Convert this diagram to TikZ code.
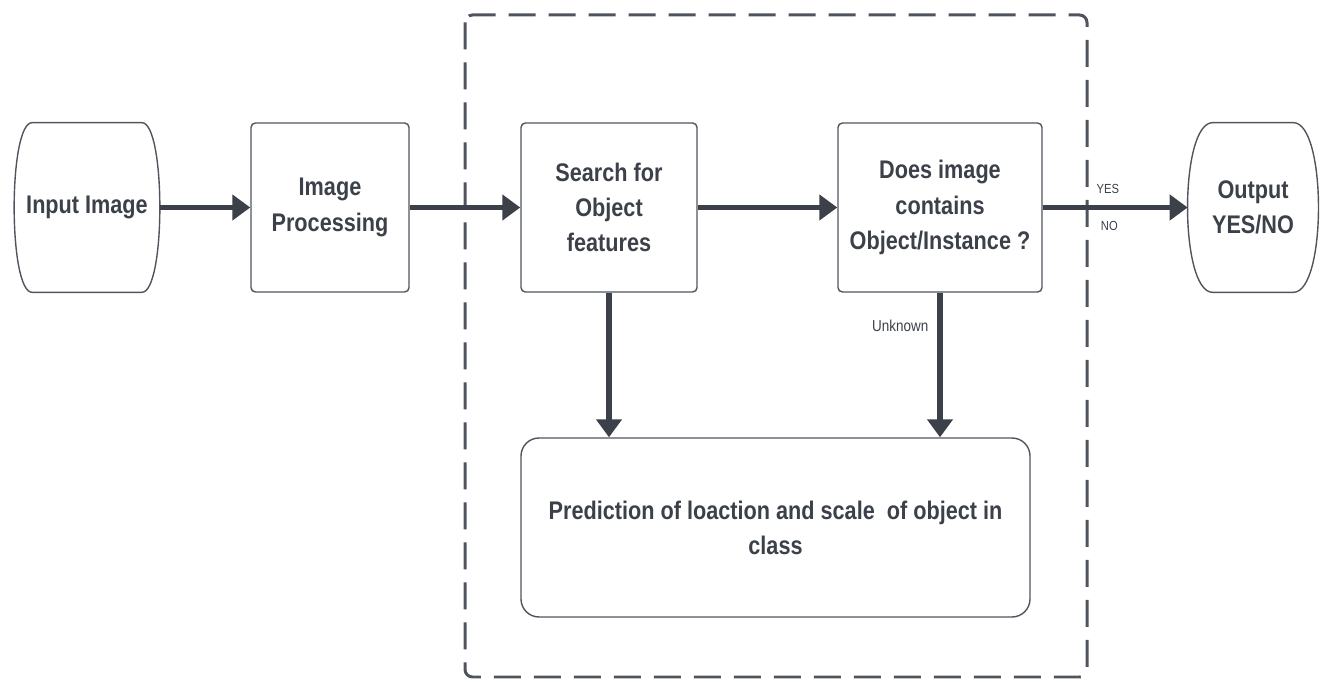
\documentclass[tikz,border=0pt]{standalone}
\usepackage{fontspec}
\setmainfont{Liberation Sans}[FakeStretch=0.85]
\usetikzlibrary{arrows.meta,positioning}
\definecolor{ink}{HTML}{3B4049}
\definecolor{frame}{HTML}{50555D}

\tikzset{
  stepbox/.style={draw=frame, line width=0.8pt, rounded corners=2.5pt,
    minimum height=3.38cm, align=center, text=ink,
    font=\fontsize{14.5}{20}\selectfont\bfseries},
  termbox/.style={minimum height=3.38cm, align=center, text=ink, inner sep=0pt,
    font=\fontsize{14.5}{20}\selectfont\bfseries},
  flow/.style={draw=ink, line width=3.4pt,
    -{Triangle[length=0.36cm,width=0.5cm]}},
  tag/.style={text=ink, inner sep=1pt},
}

\begin{document}
\begin{tikzpicture}
\useasboundingbox (0,0) rectangle (26.48,13.62);

% dashed frame round the detection part
\draw[frame, line width=1.7pt, dash pattern=on 0.54cm off 0.26cm, rounded corners=0.15cm]
  (9.30,13.32) rectangle (21.74,0.08);

\node[termbox, minimum width=2.9cm] (in) at (1.74,9.47) {Input Image};
\node[stepbox, minimum width=3.16cm] (proc) at (6.60,9.47) {Image\\Processing};
\node[stepbox, minimum width=3.52cm] (search) at (12.18,9.47) {Search for\\Object\\features};
\node[stepbox, minimum width=4.08cm] (check) at (18.80,9.47) {Does image\\contains\\Object/Instance ?};
\node[termbox, minimum width=2.6cm] (out) at (25.06,9.47) {Output\\YES/NO};
\node[stepbox, rounded corners=0.36cm, minimum width=10.18cm, minimum height=3.58cm]
  (pred) at (15.51,3.07) {Prediction of loaction and scale\ \ of object in\\class};

% terminal outlines with bulging sides
\draw[frame, line width=0.8pt]
  ([xshift=0.36cm]in.north west) .. controls ([xshift=-0.12cm]in.north west) and ([xshift=-0.12cm]in.south west) .. ([xshift=0.36cm]in.south west)
  -- ([xshift=-0.36cm]in.south east) .. controls ([xshift=0.12cm]in.south east) and ([xshift=0.12cm]in.north east) .. ([xshift=-0.36cm]in.north east) -- cycle;
\draw[frame, line width=0.8pt]
  ([xshift=0.5cm]out.north west) .. controls ([xshift=-0.17cm]out.north west) and ([xshift=-0.17cm]out.south west) .. ([xshift=0.5cm]out.south west)
  -- ([xshift=-0.5cm]out.south east) .. controls ([xshift=0.17cm]out.south east) and ([xshift=0.17cm]out.north east) .. ([xshift=-0.5cm]out.north east) -- cycle;

\draw[flow] (in) -- (proc);
\draw[flow] (proc) -- (search);
\draw[flow] (search) -- (check);
\draw[flow] (check) -- (out)
  node[tag, pos=0.45, above=5pt, font=\fontsize{7.5}{9}\selectfont] {YES}
  node[tag, pos=0.46, below=5pt, font=\fontsize{7.5}{9}\selectfont] {NO};
\draw[flow] (search.south) -- (search.south |- pred.north);
\draw[flow] (check.south) -- (check.south |- pred.north)
  node[tag, pos=0.23, left=4pt, font=\fontsize{9}{11}\selectfont] {Unknown};
\end{tikzpicture}
\end{document}
